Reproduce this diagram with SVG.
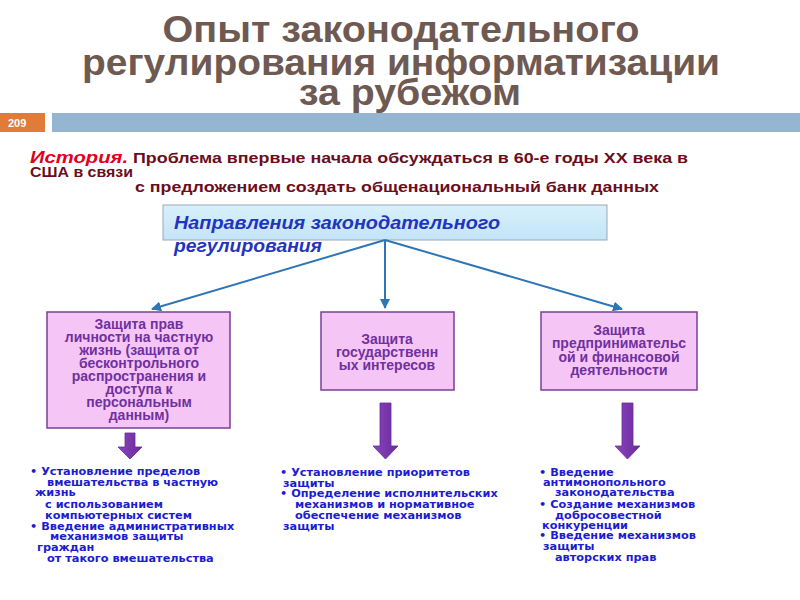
<svg xmlns="http://www.w3.org/2000/svg" width="800" height="600" viewBox="0 0 800 600">
<defs>
<style>
.title{font-family:"Liberation Sans",Arial,sans-serif;font-weight:bold;font-size:37px;fill:#6e5a52;text-anchor:middle}
.hist{font-family:"Liberation Sans",Arial,sans-serif;font-weight:bold;font-size:15px;fill:#6b0d1c}
.box{fill:#f5c6f5;stroke:#7a3f95;stroke-width:1.5}
.bt{font-family:"Liberation Sans",Arial,sans-serif;font-weight:bold;font-size:14px;fill:#7030a0;text-anchor:middle}
.li{font-family:"DejaVu Sans",Verdana,sans-serif;font-weight:bold;font-size:11.3px;fill:#1c1cd0}
.hd{font-family:"Liberation Sans",Arial,sans-serif;font-weight:bold;font-style:italic;font-size:18px;fill:#1f35c0}
.conn{stroke:#2e75b6;stroke-width:2;fill:none}
.parr{fill:url(#pg);stroke:#6a2a95;stroke-width:0.8}
</style>
<linearGradient id="hg" x1="0" y1="0" x2="0" y2="1">
<stop offset="0" stop-color="#d9f0fc"/><stop offset="1" stop-color="#c3e4f8"/>
</linearGradient>
<linearGradient id="pg" x1="0" y1="0" x2="1" y2="0">
<stop offset="0" stop-color="#8a45c0"/><stop offset="1" stop-color="#6a2a9a"/>
</linearGradient>
<marker id="ah" viewBox="0 0 10 10" refX="9" refY="5" markerWidth="5" markerHeight="5" orient="auto">
<path d="M0,0 L10,5 L0,10 z" fill="#2e75b6"/>
</marker>
</defs>
<rect width="800" height="600" fill="#ffffff"/>

<g id="title">
<text class="title" x="401" y="42" textLength="477" lengthAdjust="spacingAndGlyphs">Опыт законодательного</text>
<text class="title" x="401" y="75" textLength="638" lengthAdjust="spacingAndGlyphs">регулирования информатизации</text>
<text class="title" x="410" y="105" textLength="222" lengthAdjust="spacingAndGlyphs">за рубежом</text>
</g>

<g id="slidebar">
<rect x="0" y="113" width="45" height="19" fill="#e07b3a"/>
<text x="8" y="127" font-family="Liberation Sans,Arial,sans-serif" font-weight="bold" font-size="11" fill="#ffffff">209</text>
<rect x="52" y="113" width="748" height="19" fill="#94b6d2"/>
</g>

<g id="history">
<text class="hist" x="30" y="163" textLength="658" lengthAdjust="spacingAndGlyphs"><tspan fill="#e3001b" font-style="italic" font-size="17">История.</tspan> Проблема впервые начала обсуждаться в 60-е годы XX века в</text>
<text class="hist" x="30" y="177" textLength="103" lengthAdjust="spacingAndGlyphs">США в связи</text>
<text class="hist" x="135" y="192" textLength="524" lengthAdjust="spacingAndGlyphs">с предложением создать общенациональный банк данных</text>
</g>

<g id="header">
<rect x="163" y="205" width="444" height="35" fill="url(#hg)" stroke="#9aa8b4" stroke-width="1"/>
<text class="hd" x="174" y="229" textLength="326" lengthAdjust="spacingAndGlyphs">Направления законодательного</text>
<text class="hd" x="174" y="252" textLength="148" lengthAdjust="spacingAndGlyphs">регулирования</text>
</g>

<g id="connectors">
<line class="conn" x1="385" y1="240" x2="152" y2="309" marker-end="url(#ah)"/>
<line class="conn" x1="385" y1="240" x2="385" y2="308" marker-end="url(#ah)"/>
<line class="conn" x1="385" y1="240" x2="622" y2="309" marker-end="url(#ah)"/>
<path class="parr" d="M125,433 h10 v14 h7 l-12,12 l-12,-12 h7 z"/>
<path class="parr" d="M380,403 h11 v43 h7 l-12.5,13 l-12.5,-13 h7 z"/>
<path class="parr" d="M622,403 h11 v43 h7 l-12.5,13 l-12.5,-13 h7 z"/>
</g>

<g id="node-privacy">
<rect class="box" x="47" y="312" width="183" height="116"/>
<text class="bt" x="139" y="329">Защита прав</text>
<text class="bt" x="139" y="342">личности на частную</text>
<text class="bt" x="139" y="355">жизнь (защита от</text>
<text class="bt" x="139" y="368">бесконтрольного</text>
<text class="bt" x="139" y="381">распространения и</text>
<text class="bt" x="139" y="394">доступа к</text>
<text class="bt" x="139" y="407">персональным</text>
<text class="bt" x="139" y="420">данным)</text>
</g>

<g id="node-state">
<rect class="box" x="321" y="312" width="133" height="78"/>
<text class="bt" x="387" y="344">Защита</text>
<text class="bt" x="387" y="357">государственн</text>
<text class="bt" x="387" y="370">ых интересов</text>
</g>

<g id="node-business">
<rect class="box" x="541" y="312" width="156" height="78"/>
<text class="bt" x="619" y="335">Защита</text>
<text class="bt" x="619" y="348">предпринимательс</text>
<text class="bt" x="619" y="362">ой и финансовой</text>
<text class="bt" x="619" y="375">деятельности</text>
</g>

<g id="list-privacy">
<text class="li" x="30" y="475">• Установление пределов</text>
<text class="li" x="47" y="486">вмешательства в частную</text>
<text class="li" x="35" y="496">жизнь</text>
<text class="li" x="45" y="508">с использованием</text>
<text class="li" x="45" y="519">компьютерных систем</text>
<text class="li" x="30" y="530">• Введение административных</text>
<text class="li" x="50" y="540">механизмов защиты</text>
<text class="li" x="37" y="551">граждан</text>
<text class="li" x="47" y="562">от такого вмешательства</text>
</g>

<g id="list-state">
<text class="li" x="280" y="476">• Установление приоритетов</text>
<text class="li" x="283" y="487">защиты</text>
<text class="li" x="280" y="497">• Определение исполнительских</text>
<text class="li" x="295" y="508">механизмов и нормативное</text>
<text class="li" x="295" y="519">обеспечение механизмов</text>
<text class="li" x="283" y="530">защиты</text>
</g>

<g id="list-business">
<text class="li" x="539" y="476">• Введение</text>
<text class="li" x="543" y="486">антимонопольного</text>
<text class="li" x="555" y="496">законодательства</text>
<text class="li" x="539" y="508">• Создание механизмов</text>
<text class="li" x="555" y="519">добросовестной</text>
<text class="li" x="542" y="529">конкуренции</text>
<text class="li" x="539" y="539">• Введение механизмов</text>
<text class="li" x="543" y="550">защиты</text>
<text class="li" x="555" y="561">авторских прав</text>
</g>
</svg>
